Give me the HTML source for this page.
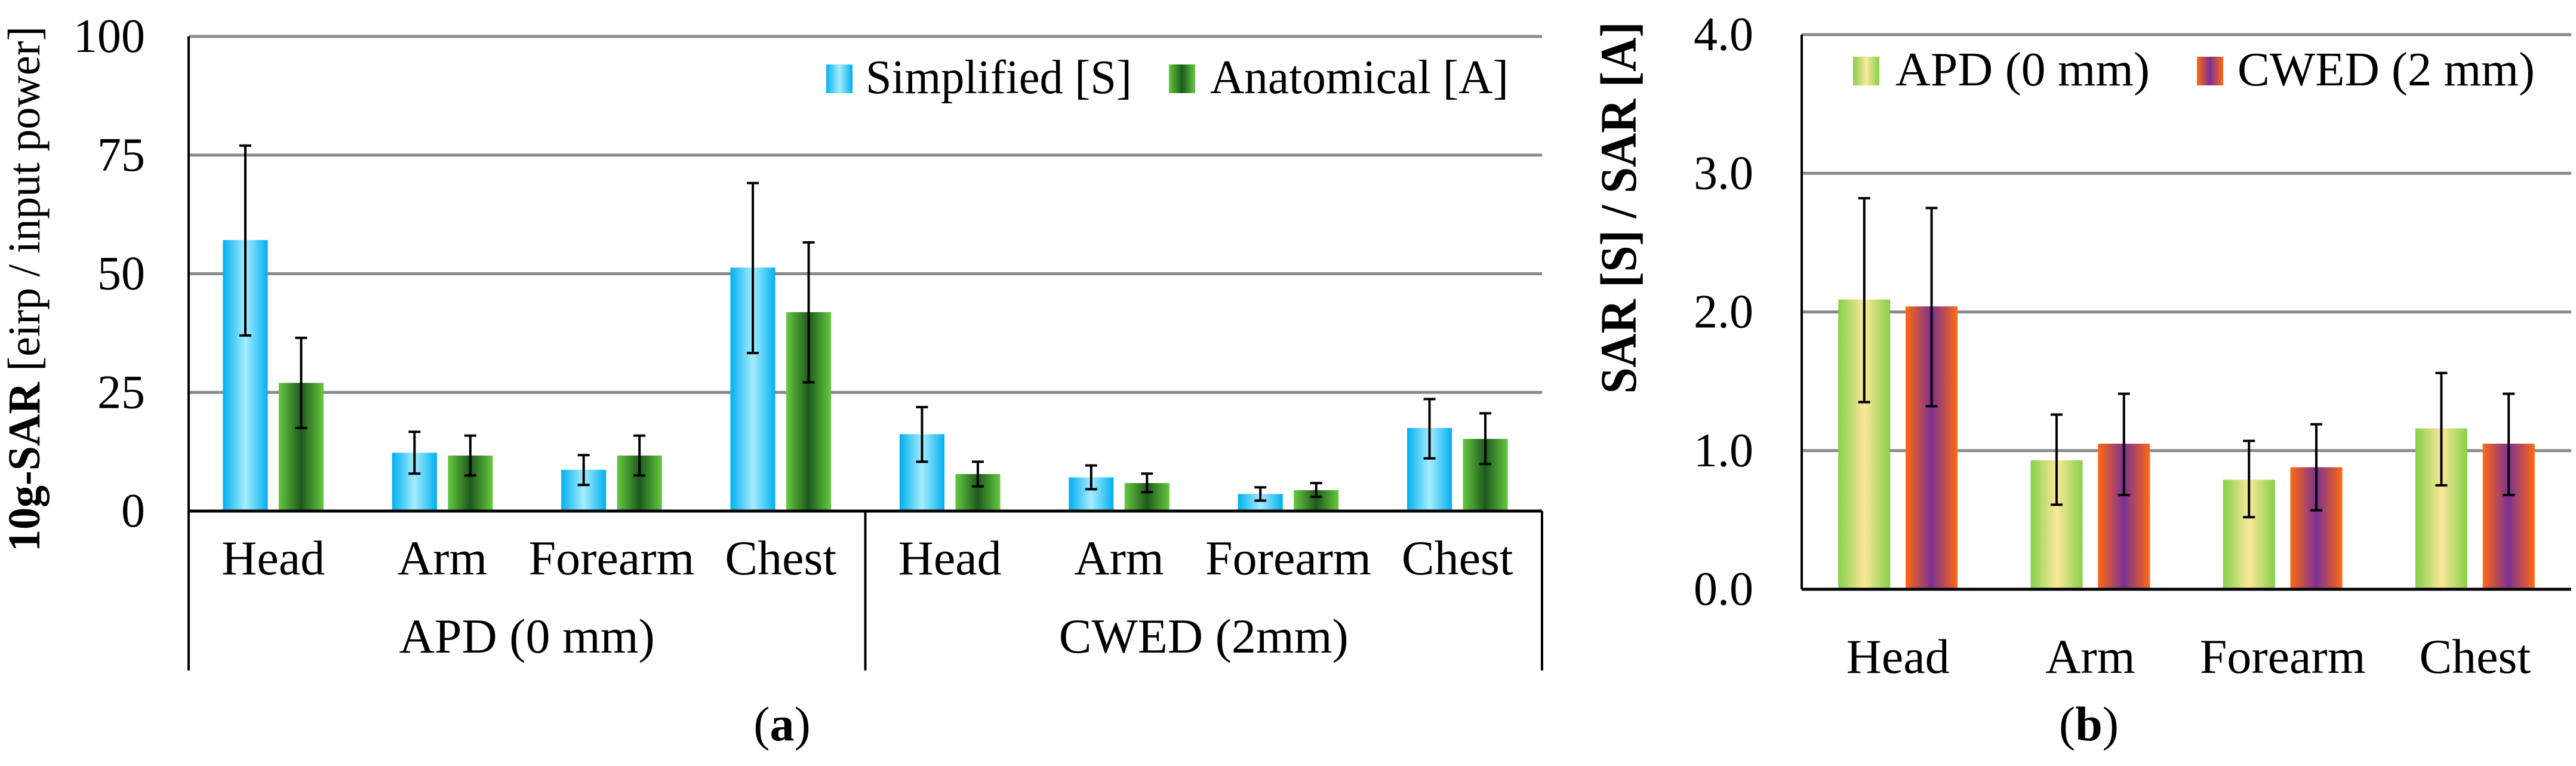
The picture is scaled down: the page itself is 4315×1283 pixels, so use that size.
<!DOCTYPE html>
<html><head><meta charset="utf-8">
<style>
html,body{margin:0;padding:0;background:#fff;}
svg{display:block;}
svg text{font-family:"Liberation Serif","DejaVu Serif",serif;}
</style></head>
<body>
<svg id="chart" width="4315" height="1283" viewBox="0 0 4315 1283" xmlns="http://www.w3.org/2000/svg" font-family="Liberation Serif, serif">
<defs>
<linearGradient id="gBlue" x1="0" x2="1" y1="0" y2="0">
<stop offset="0" stop-color="#00b0f0"/><stop offset="0.5" stop-color="#a6ecff"/><stop offset="1" stop-color="#00b0f0"/></linearGradient>
<linearGradient id="gGreen" x1="0" x2="1" y1="0" y2="0">
<stop offset="0" stop-color="#66c940"/><stop offset="0.5" stop-color="#1c5a1c"/><stop offset="1" stop-color="#66c940"/></linearGradient>
<linearGradient id="gApd" x1="0" x2="1" y1="0" y2="0">
<stop offset="0" stop-color="#86d04a"/><stop offset="0.5" stop-color="#fde79a"/><stop offset="1" stop-color="#86d04a"/></linearGradient>
<linearGradient id="gCwed" x1="0" x2="1" y1="0" y2="0">
<stop offset="0" stop-color="#ff6a10"/><stop offset="0.5" stop-color="#7a3095"/><stop offset="1" stop-color="#ff6a10"/></linearGradient>
</defs>
<g id="chartA"></g>
<g id="chartB"></g>
</svg>
<script>
// Chart (a) data
const catsA = ["Head","Arm","Forearm","Chest","Head","Arm","Forearm","Chest"];
const groupsA = ["APD (0 mm)","CWED (2mm)"];
const simpA = [57.1,12.3,8.7,51.3,16.2,7.1,3.6,17.5];
const simpHiA = [77,16.7,11.8,69.1,21.9,9.6,5.0,23.6];
const simpLoA = [37,7.9,5.5,33.3,10.4,4.6,2.2,11.1];
const anatA = [27.0,11.7,11.7,41.9,7.8,5.9,4.4,15.2];
const anatHiA = [36.5,15.9,15.9,56.6,10.4,7.9,5.9,20.6];
const anatLoA = [17.5,7.5,7.5,27.1,5.2,4.0,3.0,9.9];
const ticksA = [0,25,50,75,100];
// Chart (b) data
const catsB = ["Head","Arm","Forearm","Chest"];
const apdB = [2.09,0.93,0.79,1.16];
const apdHiB = [2.82,1.26,1.07,1.56];
const apdLoB = [1.35,0.61,0.52,0.75];
const cwedB = [2.04,1.05,0.88,1.05];
const cwedHiB = [2.75,1.41,1.19,1.41];
const cwedLoB = [1.32,0.68,0.57,0.68];
const ticksB = ["0.0","1.0","2.0","3.0","4.0"];

const NS="http://www.w3.org/2000/svg";
function mk(parent,tag,attrs,text){const e=document.createElementNS(NS,tag);if(tag==='text')e.setAttribute('font-family','Liberation Serif, serif');for(const k in attrs)e.setAttribute(k,attrs[k]);if(text!==undefined)e.textContent=text;parent.appendChild(e);return e;}

// ---------- Chart A ----------
(function(){
const g=document.getElementById('chartA');
const X0=316,X1=2583,Y0=856,Y1=61,vmax=100;
const y=v=>Y0-(v/vmax)*(Y0-Y1);
const gw=(X1-X0)/catsA.length;
const bw=gw*0.265, gap=gw*0.065;
ticksA.forEach(t=>{
  if(t>0){const l=mk(g,'line',{x1:X0,x2:X1,y1:y(t),y2:y(t),stroke:'#8a8a8a','stroke-width':5});
  
  }
  const tx=mk(g,'text',{x:243,y:y(t)+26,'font-size':80,'text-anchor':'end'},String(t));
  
  
});
catsA.forEach((c,i)=>{
  const cx=X0+gw*(i+0.5);
  const bars=[[simpA,simpHiA,simpLoA,'url(#gBlue)',cx-gap/2-bw,'bar-simplified'],[anatA,anatHiA,anatLoA,'url(#gGreen)',cx+gap/2,'bar-anatomical']];
  bars.forEach(b=>{
    const v=b[0][i];
    const r=mk(g,'rect',{x:b[4],y:y(v),width:bw,height:Y0-y(v),fill:b[3]});
    
    
    const ex=b[4]+bw/2;
    const e=mk(g,'path',{d:`M${ex},${y(b[1][i])}V${y(b[2][i])}M${ex-10},${y(b[1][i])}h20M${ex-10},${y(b[2][i])}h20`,stroke:'#000','stroke-width':4,fill:'none'});
    
    
  });
  const t=mk(g,'text',{x:cx,y:962,'font-size':82,'text-anchor':'middle'},c);
  
  
});
groupsA.forEach((gr,j)=>{
  const cx=X0+(X1-X0)/4*(2*j+1);
  const t=mk(g,'text',{x:cx,y:1093,'font-size':82,'text-anchor':'middle'},gr);
  
  
});
[X0,(X0+X1)/2,X1].forEach(x=>{const l=mk(g,'line',{x1:x,x2:x,y1:x===X0?Y1:Y0,y2:1123,stroke:'#000','stroke-width':4});

});
const base=mk(g,'line',{x1:X0,x2:X1,y1:Y0,y2:Y0,stroke:'#000','stroke-width':5});


// legend
const l1=mk(g,'rect',{x:1384,y:108,width:44,height:48,fill:'url(#gBlue)'});


const lt1=mk(g,'text',{x:1450,y:156,'font-size':80,textLength:446,lengthAdjust:'spacingAndGlyphs'},'Simplified [S]');


const l2=mk(g,'rect',{x:1958,y:108,width:44,height:48,fill:'url(#gGreen)'});


const lt2=mk(g,'text',{x:2027,y:156,'font-size':80,textLength:500,lengthAdjust:'spacingAndGlyphs'},'Anatomical [A]');


// y title
const yt=mk(g,'text',{transform:'translate(66,484) rotate(-90)','font-size':76,'text-anchor':'middle',textLength:880,lengthAdjust:'spacingAndGlyphs'});


mk(yt,'tspan',{'font-weight':'bold'},'10g-SAR');
mk(yt,'tspan',{},' [eirp / input power]');
const cap=mk(g,'text',{x:1310,y:1240,'font-size':82,'text-anchor':'middle'});


mk(cap,'tspan',{},'(');mk(cap,'tspan',{'font-weight':'bold'},'a');mk(cap,'tspan',{},')');
})();

// ---------- Chart B ----------
(function(){
const g=document.getElementById('chartB');
const X0=3018,X1=4307,Y0=987,Y1=58,vmax=4;
const y=v=>Y0-(v/vmax)*(Y0-Y1);
const gw=(X1-X0)/catsB.length;
const bw=gw*0.27, gap=gw*0.08;
ticksB.forEach(t=>{
  const v=parseFloat(t);
  if(v>0){const l=mk(g,'line',{x1:X0,x2:X1,y1:y(v),y2:y(v),stroke:'#8a8a8a','stroke-width':5});
  
  }
  const tx=mk(g,'text',{x:2937,y:y(v)+26,'font-size':80,'text-anchor':'end'},t);
  
  
});
catsB.forEach((c,i)=>{
  const cx=X0+gw*(i+0.5);
  const bars=[[apdB,apdHiB,apdLoB,'url(#gApd)',cx-gap/2-bw,'bar-apd'],[cwedB,cwedHiB,cwedLoB,'url(#gCwed)',cx+gap/2,'bar-cwed']];
  bars.forEach(b=>{
    const v=b[0][i];
    const r=mk(g,'rect',{x:b[4],y:y(v),width:bw,height:Y0-y(v),fill:b[3]});
    
    
    const ex=b[4]+bw/2;
    const e=mk(g,'path',{d:`M${ex},${y(b[1][i])}V${y(b[2][i])}M${ex-10},${y(b[1][i])}h20M${ex-10},${y(b[2][i])}h20`,stroke:'#000','stroke-width':4,fill:'none'});
    
    
  });
  const t=mk(g,'text',{x:cx,y:1127,'font-size':82,'text-anchor':'middle'},c);
  
  
});
const ax=mk(g,'line',{x1:X0,x2:X0,y1:Y1,y2:Y0,stroke:'#000','stroke-width':4});


const base=mk(g,'line',{x1:X0,x2:X1,y1:Y0,y2:Y0,stroke:'#000','stroke-width':5});


const l1=mk(g,'rect',{x:3104,y:95,width:44,height:48,fill:'url(#gApd)'});


const lt1=mk(g,'text',{x:3175,y:143,'font-size':80,textLength:426,lengthAdjust:'spacingAndGlyphs'},'APD (0 mm)');


const l2=mk(g,'rect',{x:3680,y:95,width:44,height:48,fill:'url(#gCwed)'});


const lt2=mk(g,'text',{x:3748,y:143,'font-size':80,textLength:498,lengthAdjust:'spacingAndGlyphs'},'CWED (2 mm)');


const yt=mk(g,'text',{transform:'translate(2740,348) rotate(-90)','font-size':86,'font-weight':'bold','text-anchor':'middle',textLength:623,lengthAdjust:'spacingAndGlyphs'},'SAR [S] / SAR [A]');


const cap=mk(g,'text',{x:3499,y:1240,'font-size':82,'text-anchor':'middle'});


mk(cap,'tspan',{},'(');mk(cap,'tspan',{'font-weight':'bold'},'b');mk(cap,'tspan',{},')');
})();
</script>
</body></html>
